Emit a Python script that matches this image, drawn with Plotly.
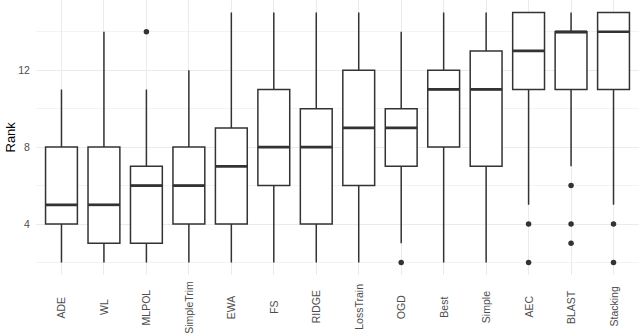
import plotly.graph_objects as go

categories = ["ADE", "WL", "MLPOL", "SimpleTrim", "EWA", "FS", "RIDGE",
              "LossTrain", "OGD", "Best", "Simple", "AEC", "BLAST", "Stacking"]
lower_whisker = [2, 2, 2, 2, 2, 2, 2, 2, 3, 2, 2, 5, 7, 5]
q1 = [4, 3, 3, 4, 4, 6, 4, 6, 7, 8, 7, 11, 11, 11]
median = [5, 5, 6, 6, 7, 8, 8, 9, 9, 11, 11, 13, 14, 14]
q3 = [8, 8, 7, 8, 9, 11, 10, 12, 10, 12, 13, 15, 14, 15]
upper_whisker = [11, 14, 11, 12, 15, 15, 15, 15, 14, 15, 15, 15, 15, 15]
outliers = {
    "MLPOL": [14],
    "OGD": [2],
    "AEC": [4, 2],
    "BLAST": [6, 4, 3],
    "Stacking": [4, 2],
}
y_ticks = [4, 8, 12]
y_minor = [2, 6, 10, 14]

LINE = "#333333"
GRID = "#ebebeb"
BOXW = 0.75

idx = list(range(len(categories)))
fig = go.Figure()
fig.add_trace(go.Box(
    x=idx, q1=q1, median=median, q3=q3,
    lowerfence=lower_whisker, upperfence=upper_whisker,
    width=BOXW, whiskerwidth=0, boxpoints=False,
    fillcolor="white", line=dict(color=LINE, width=1.5),
    showlegend=False, hoverinfo="skip",
))

mx, my = [], []
for i, m in zip(idx, median):
    mx += [i - BOXW / 2, i + BOXW / 2, None]
    my += [m, m, None]
fig.add_trace(go.Scatter(x=mx, y=my, mode="lines",
                         line=dict(color=LINE, width=2.7),
                         showlegend=False, hoverinfo="skip"))

ox, oy = [], []
for name, vals in outliers.items():
    i = categories.index(name)
    ox += [i] * len(vals)
    oy += vals
fig.add_trace(go.Scatter(x=ox, y=oy, mode="markers",
                         marker=dict(color=LINE, size=5.5),
                         showlegend=False, hoverinfo="skip"))

annotations = []
for i, c in zip(idx, categories):
    annotations.append(dict(
        x=i, xref="x", y=0, yref="paper", yshift=-32,
        text=c, textangle=-90, showarrow=False,
        xanchor="center", yanchor="middle",
        font=dict(family="Liberation Sans, Arial", size=10.5, color="#4d4d4d"),
    ))
annotations.append(dict(
    x=-26 / 603, xref="paper", y=0.5, yref="paper", text="Rank",
    textangle=-90, showarrow=False, xanchor="center", yanchor="middle",
    font=dict(family="Liberation Sans, Arial", size=13, color="black"),
))

fig.update_layout(
    width=640, height=334,
    margin=dict(l=36, r=1, t=0, b=59),
    paper_bgcolor="white", plot_bgcolor="white",
    font=dict(family="Liberation Sans, Arial", size=10.5, color="#4d4d4d"),
    annotations=annotations,
    xaxis=dict(range=[-0.6, len(categories) - 0.4], tickvals=idx,
               showticklabels=False, showgrid=True, gridcolor=GRID,
               gridwidth=1, zeroline=False, showline=False, ticks=""),
    yaxis=dict(range=[1.35, 15.65], tickvals=y_ticks,
               showgrid=True, gridcolor=GRID, gridwidth=1,
               zeroline=False, showline=False, ticks="outside",
               ticklen=3, tickcolor="rgba(0,0,0,0)",
               minor=dict(tickvals=y_minor, showgrid=True,
                          gridcolor="#f3f3f3", gridwidth=1)),
)
fig.write_html("out.html",
               config={"displayModeBar": False, "staticPlot": True},
               post_script="document.body.style.margin='0';"
                           "document.body.style.overflow='hidden';")
